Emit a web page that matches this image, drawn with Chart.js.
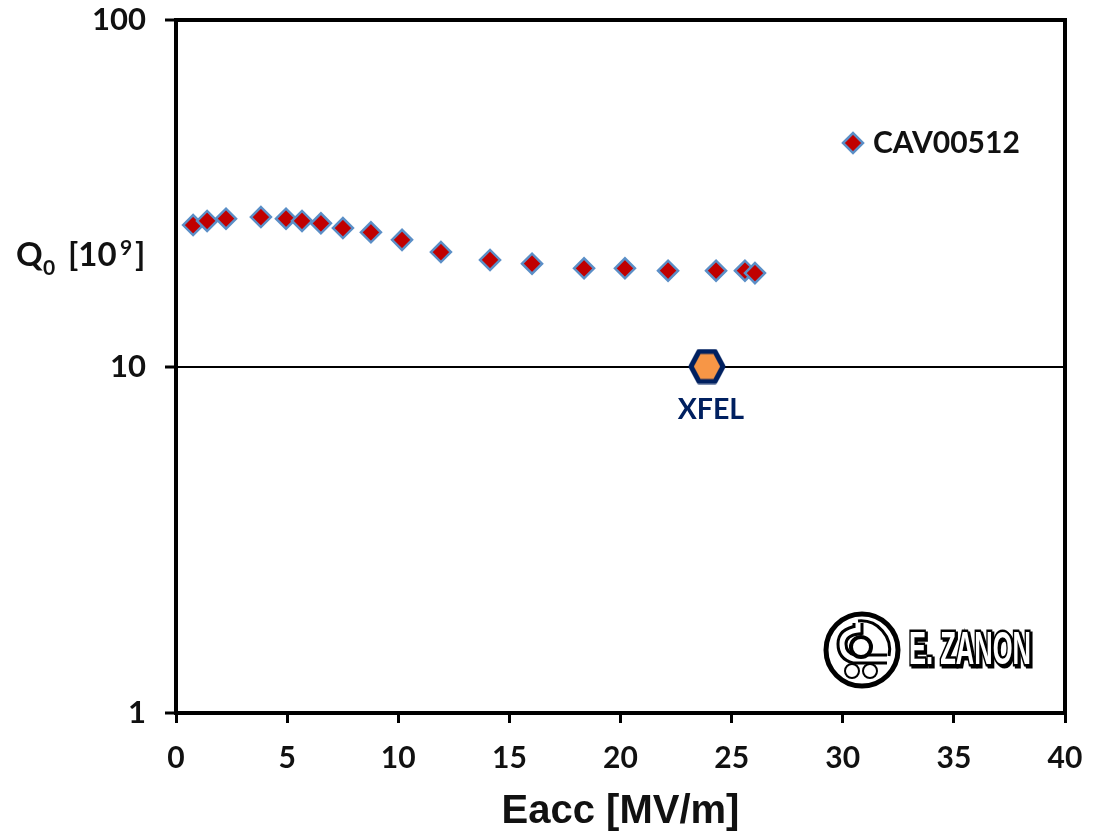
<!DOCTYPE html>
<html>
<head>
<meta charset="utf-8">
<title>Q0 vs Eacc</title>
<script src="https://cdn.jsdelivr.net/npm/chart.js@4"></script>
<style>
  html, body { margin: 0; padding: 0; background: #fff; }
  #wrap { position: relative; width: 1096px; height: 832px; }
  #logo { position: absolute; left: 820px; top: 606px; }
</style>
</head>
<body>
<div id="wrap">
  <canvas id="grafico" width="1096" height="832"></canvas>
  <svg id="logo" width="220" height="90" viewBox="0 0 220 90">
    <circle cx="42" cy="44" r="36" fill="#fff" stroke="#000" stroke-width="5"/>
    <path d="M38 15 A29 29 0 0 1 69 50" fill="none" stroke="#000" stroke-width="3"/>
    <path d="M38 17 V24 Q22 26 22 38 Q22 50 34 53 H67" fill="none" stroke="#000" stroke-width="11"/>
    <path d="M38 17 V24 Q22 26 22 38 Q22 50 34 53 H67" fill="none" stroke="#fff" stroke-width="5"/>
    <circle cx="41" cy="41" r="10" fill="#fff" stroke="#000" stroke-width="4"/>
    <circle cx="32" cy="65" r="7" fill="#fff" stroke="#000" stroke-width="2"/>
    <circle cx="50" cy="65" r="7" fill="#fff" stroke="#000" stroke-width="2"/>
    <text x="89" y="58" font-family="'Liberation Sans Narrow','Liberation Sans'" font-weight="700" font-size="47"
      textLength="122" lengthAdjust="spacingAndGlyphs" fill="#fff" stroke="#000" stroke-width="5" paint-order="stroke"
      style="filter: drop-shadow(2px 2px 0 #000)">E. ZANON</text>
  </svg>
</div>
<script>
const eacc = [0.77, 1.4, 2.25, 3.82, 4.95, 5.67, 6.52, 7.51, 8.77, 10.17, 11.92, 14.13, 16.02, 18.36, 20.2, 22.14, 24.3, 25.6, 26.05];
const q0 = [25.6, 26.3, 26.7, 27.0, 26.7, 26.3, 25.9, 25.1, 24.4, 23.2, 21.4, 20.3, 19.8, 19.2, 19.2, 18.9, 18.9, 18.9, 18.6];
const xfelEacc = [23.89];
const xfelQ0 = [10];
const yTicks = [1, 10, 100];
const serieNombre = "CAV00512";
const xfelNombre = "XFEL";

const fuenteEje = "Lato, 'Open Sans', sans-serif";
const fuenteTitulo = "'Liberation Sans', Arial, sans-serif";

// hexagono del punto XFEL
function hexagono() {
  const c = document.createElement("canvas");
  c.width = 38;
  c.height = 36;
  const g = c.getContext("2d");
  g.beginPath();
  g.moveTo(3, 18);
  g.lineTo(11, 3);
  g.lineTo(27, 3);
  g.lineTo(35, 18);
  g.lineTo(27, 33);
  g.lineTo(11, 33);
  g.closePath();
  g.fillStyle = "#f79646";
  g.fill();
  g.lineWidth = 5;
  g.lineJoin = "round";
  g.strokeStyle = "#002060";
  g.stroke();
  return c;
}

// marco, leyenda y textos sueltos
const extras = {
  id: "extras",
  afterDatasetsDraw(chart) {
    const { ctx, chartArea, scales } = chart;
    ctx.save();
    ctx.strokeStyle = "#000";
    ctx.lineWidth = 4;
    ctx.strokeRect(chartArea.left, chartArea.top, chartArea.width, chartArea.height);

    // leyenda
    const lx = 853, ly = 143;
    ctx.beginPath();
    ctx.moveTo(lx - 10, ly);
    ctx.lineTo(lx, ly - 10);
    ctx.lineTo(lx + 10, ly);
    ctx.lineTo(lx, ly + 10);
    ctx.closePath();
    ctx.fillStyle = "#c00000";
    ctx.fill();
    ctx.lineWidth = 2.5;
    ctx.strokeStyle = "#5b8fc7";
    ctx.stroke();
    ctx.fillStyle = "#111";
    ctx.font = "700 30px " + fuenteEje;
    ctx.textAlign = "left";
    ctx.textBaseline = "middle";
    ctx.fillText(serieNombre, 873, 143);

    // etiqueta XFEL
    ctx.fillStyle = "#002060";
    ctx.textAlign = "center";
    ctx.font = "700 28.5px " + fuenteEje;
    ctx.fillText(xfelNombre, scales.x.getPixelForValue(xfelEacc[0]) + 4, scales.y.getPixelForValue(xfelQ0[0]) + 43);

    // titulo del eje y, horizontal con sub y superindice
    ctx.fillStyle = "#111";
    ctx.textAlign = "left";
    ctx.textBaseline = "alphabetic";
    ctx.font = "700 33px " + fuenteEje;
    ctx.fillText("Q", 16, 266);
    ctx.fillText("[10", 68, 266);
    ctx.fillText("]", 135, 266);
    ctx.font = "700 21px " + fuenteEje;
    ctx.fillText("0", 43, 275);
    ctx.fillText("9", 120, 255);
    ctx.restore();
  },
};

new Chart(document.getElementById("grafico").getContext("2d"), {
  type: "scatter",
  data: {
    datasets: [
      {
        label: serieNombre,
        data: eacc.map((x, i) => ({ x: x, y: q0[i] })),
        pointStyle: "rectRot",
        pointRadius: 10,
        pointHoverRadius: 10,
        backgroundColor: "#c00000",
        borderColor: "#5b8fc7",
        borderWidth: 2.5,
      },
      {
        label: xfelNombre,
        data: xfelEacc.map((x, i) => ({ x: x, y: xfelQ0[i] })),
        pointStyle: hexagono(),
      },
    ],
  },
  options: {
    responsive: false,
    animation: false,
    layout: { padding: { top: 20, right: 31, left: 0, bottom: 0 } },
    plugins: { legend: { display: false }, tooltip: { enabled: false } },
    scales: {
      x: {
        type: "linear",
        min: 0,
        max: 40,
        afterFit: (s) => {
          s.height = 119;
          s.paddingLeft = 0;
          s.paddingRight = 0;
        },
        ticks: { stepSize: 5, color: "#111", padding: 17, maxRotation: 0, font: { family: fuenteEje, size: 30, weight: "700" } },
        grid: { drawOnChartArea: false, color: "#000", tickColor: "#000", tickLength: 10, tickWidth: 3 },
        border: { color: "#000", width: 4 },
        title: {
          display: true,
          text: "Eacc [MV/m]",
          color: "#111",
          padding: { top: 0, bottom: 0 },
          font: { family: fuenteTitulo, size: 40, weight: "700", lineHeight: 1 },
        },
      },
      y: {
        type: "logarithmic",
        min: 1,
        max: 100,
        afterFit: (s) => {
          s.width = 176;
          s.paddingTop = 0;
          s.paddingBottom = 0;
        },
        afterBuildTicks: (s) => { s.ticks = yTicks.map((v) => ({ value: v, major: true })); },
        ticks: {
          color: "#111",
          padding: 19,
          autoSkip: false,
          callback: (v) => String(v),
          font: { family: fuenteEje, size: 31, weight: "700" },
        },
        grid: { color: "#000", lineWidth: 2, tickColor: "#000", tickLength: 11, tickWidth: 3 },
        border: { color: "#000", width: 4 },
      },
    },
  },
  plugins: [extras],
});
</script>
</body>
</html>
